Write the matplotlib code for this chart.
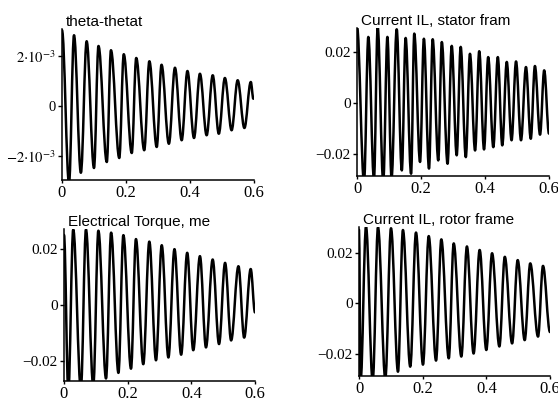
import numpy as np
import matplotlib
matplotlib.use('Agg')
import matplotlib.pyplot as plt
from matplotlib.path import Path
from matplotlib.patches import PathPatch

plt.rcParams['mathtext.fontset'] = 'stix'

# turning points of each trace (time in s), first and last entries are the ends
theta_t = [0, 0.022, 0.0375, 0.059, 0.077, 0.100, 0.114, 0.140, 0.153, 0.179,
           0.193, 0.218, 0.232, 0.257, 0.273, 0.296, 0.311, 0.334, 0.353, 0.374,
           0.392, 0.4125, 0.431, 0.452, 0.471, 0.490, 0.509, 0.530, 0.549, 0.570,
           0.590, 0.598]
theta_v = np.array([3.03, -3.1, 2.83, -2.67, 2.59, -2.48, 2.40, -2.24, 2.23, -2.08,
                    2.07, -1.88, 1.92, -1.77, 1.79, -1.64, 1.65, -1.51, 1.53, -1.37,
                    1.40, -1.28, 1.29, -1.17, 1.23, -1.11, 1.12, -0.97, 1.03, -0.88,
                    0.96, 0.29]) * 1e-3

stator_t = [0, 0.022, 0.0354, 0.053, 0.0646, 0.082, 0.095, 0.108, 0.124, 0.140,
            0.152, 0.169, 0.179, 0.197, 0.209, 0.225, 0.2365, 0.254, 0.265, 0.283,
            0.296, 0.3115, 0.324, 0.340, 0.353, 0.369, 0.382, 0.397, 0.410, 0.426,
            0.440, 0.454, 0.468, 0.483, 0.497, 0.5125, 0.528, 0.543, 0.556, 0.572,
            0.585, 0.600]
stator_v = [0.0300, -0.031, 0.0259, -0.030, 0.0298, -0.031, 0.0259, -0.0295, 0.0289, -0.0264,
            0.0255, -0.0277, 0.0272, -0.0231, 0.0252, -0.0257, 0.0250, -0.0225, 0.0239, -0.0238,
            0.0224, -0.0205, 0.0220, -0.0212, 0.0193, -0.0186, 0.0203, -0.0182, 0.0180, -0.0173,
            0.0180, -0.0166, 0.0161, -0.0146, 0.0163, -0.0146, 0.0141, -0.0140, 0.0145, -0.0124,
            0.0128, -0.0120]

torque_t = [0, 0.0136, 0.029, 0.053, 0.069, 0.092, 0.108, 0.132, 0.148, 0.171,
            0.1865, 0.2105, 0.226, 0.249, 0.268, 0.289, 0.307, 0.328, 0.347, 0.368,
            0.387, 0.406, 0.427, 0.446, 0.467, 0.487, 0.506, 0.525, 0.548, 0.566,
            0.5865, 0.600]
torque_v = [0.025, -0.031, 0.0269, -0.030, 0.0269, -0.029, 0.0265, -0.0263, 0.0258, -0.0243,
            0.0249, -0.0228, 0.0235, -0.0212, 0.0226, -0.0198, 0.0213, -0.0188, 0.0199, -0.0178,
            0.0186, -0.0162, 0.0174, -0.0152, 0.0162, -0.0140, 0.0150, -0.0127, 0.0138, -0.0117,
            0.0128, -0.0027]

rotor_t = [0, 0.005, 0.022, 0.043, 0.0597, 0.0827, 0.1005, 0.1225, 0.138, 0.161,
           0.179, 0.201, 0.219, 0.242, 0.2586, 0.282, 0.2975, 0.3215, 0.339, 0.360,
           0.379, 0.400, 0.418, 0.441, 0.458, 0.481, 0.4985, 0.5205, 0.538, 0.5624,
           0.578, 0.600]
rotor_v = [0.029, -0.031, 0.0302, -0.031, 0.0300, -0.030, 0.0296, -0.0272, 0.0289, -0.0252,
           0.0279, -0.0244, 0.0265, -0.0228, 0.0252, -0.0219, 0.0236, -0.0212, 0.0224, -0.0200,
           0.0210, -0.0186, 0.0197, -0.0172, 0.0183, -0.0160, 0.0170, -0.0147, 0.0157, -0.0133,
           0.0147, -0.0115]

titles = ['theta-thetat', 'Current IL, stator fram',
          'Electrical Torque, me', 'Current IL, rotor frame']
x_ticks = [0, 0.2, 0.4, 0.6]
x_labels = ['0', '0.2', '0.4', '0.6']
theta_ticks = [-2e-3, 0, 2e-3]
theta_labels = [r'$-2{\cdot}10^{-3}$', '0', r'$2{\cdot}10^{-3}$']
amp_ticks = [-0.02, 0, 0.02]
amp_labels = ['\u22120.02', '0', '0.02']


def turning_path(t, v, k=0.36):
    # cubic pieces with flat tangents at every max / min
    verts = [(t[0], v[0])]
    codes = [Path.MOVETO]
    for i in range(len(t) - 1):
        dt = t[i + 1] - t[i]
        verts += [(t[i] + k * dt, v[i]), (t[i + 1] - k * dt, v[i + 1]), (t[i + 1], v[i + 1])]
        codes += [Path.CURVE4] * 3
    return Path(verts, codes)


W, H = 558, 401
fig = plt.figure(figsize=(W / 100, H / 100), dpi=100)

# pixel boxes: left, right, top, bottom
boxes = [(62, 254, 29, 180), (357, 549, 28, 176),
         (64, 255, 229, 381), (359, 550, 227, 376)]
ylims = [(-2.96e-3, 3.08e-3), (-0.0286, 0.0294), (-0.0272, 0.0271), (-0.0289, 0.0301)]
series = [(theta_t, theta_v), (stator_t, stator_v), (torque_t, torque_v), (rotor_t, rotor_v)]

for i, ((l, r, tp, b), yl, (t, v)) in enumerate(zip(boxes, ylims, series)):
    ax = fig.add_axes([l / W, 1 - b / H, (r - l) / W, (b - tp) / H])
    ax.add_patch(PathPatch(turning_path(t, v), fill=False, lw=1.8,
                           edgecolor='black', capstyle='round', joinstyle='round'))
    ax.set_xlim(0, 0.6)
    ax.set_ylim(*yl)
    for s in ['top', 'right']:
        ax.spines[s].set_visible(False)
    for s in ['left', 'bottom']:
        ax.spines[s].set_linewidth(1.1)
    ax.set_xticks(x_ticks)
    ax.set_xticklabels(x_labels, fontfamily='Liberation Serif', fontsize=12)
    if i == 0:
        ax.set_yticks(theta_ticks)
        ax.set_yticklabels(theta_labels, fontfamily='Liberation Serif', fontsize=10.5)
    else:
        ax.set_yticks(amp_ticks)
        ax.set_yticklabels(amp_labels, fontfamily='Liberation Serif', fontsize=11)
    ax.tick_params(axis='y', direction='out', length=3, width=1, pad=1.5)
    ax.tick_params(axis='x', direction='out', length=2.5, width=1, pad=1)
    ax.text(4 / (r - l), 1.0, titles[i], transform=ax.transAxes,
            fontfamily='Liberation Sans', fontsize=11, ha='left', va='bottom')

fig.savefig('out.png', dpi=100)
